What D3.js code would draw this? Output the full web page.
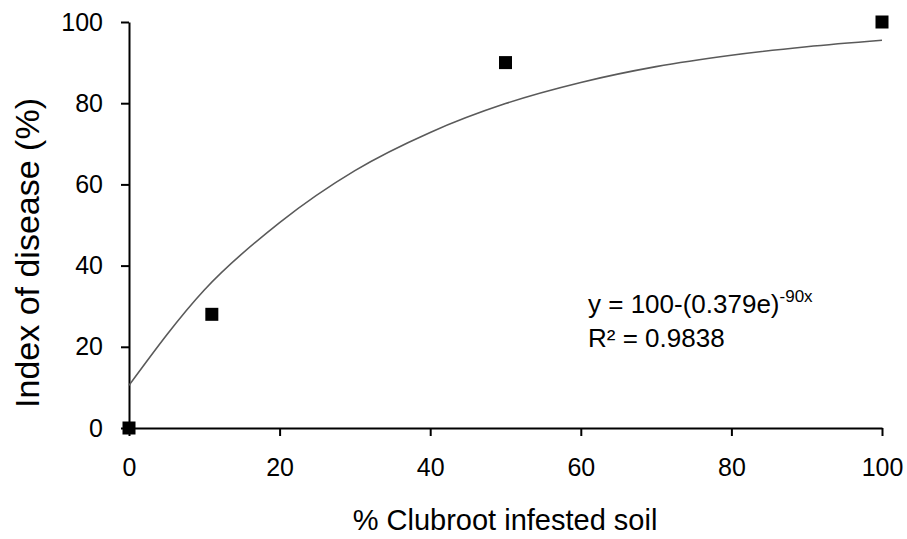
<!DOCTYPE html>
<html>
<head>
<meta charset="utf-8">
<script src="https://cdn.jsdelivr.net/npm/d3@7"></script>
<style>
  body { margin: 0; background: white; }
  text { font-family: "Liberation Sans", Arial, sans-serif; fill: #000; }
</style>
</head>
<body>
<script>
// measured points
const soilPct = [0, 11, 50, 100];
const diseaseIdx = [0, 28, 90, 100];

// fitted trend line
const trendX = [0, 10, 20, 30, 40, 50, 60, 70, 80, 90, 100];
const trendY = [10.5, 34, 50.6, 63.4, 72.8, 79.9, 85.1, 89, 91.8, 93.9, 95.5];

const xTicks = [0, 20, 40, 60, 80, 100];
const yTicks = [0, 20, 40, 60, 80, 100];

function drawChart() {
    let svg = d3.select('body').append('svg')
        .attr("width", 907)
        .attr("height", 539);

    let x = d3.scaleLinear().domain([0, 100]).range([129, 882]);
    let y = d3.scaleLinear().domain([0, 100]).range([428, 22]);

    // axes
    let yAxis = svg.append("g")
        .attr("transform", "translate(129,0)")
        .call(d3.axisLeft(y).tickValues(yTicks).tickSize(8).tickSizeOuter(0).tickPadding(18));
    let xAxis = svg.append("g")
        .attr("transform", "translate(0,428)")
        .call(d3.axisBottom(x).tickValues(xTicks).tickSize(8).tickSizeOuter(0).tickPadding(22));

    [xAxis, yAxis].forEach(g => {
        g.selectAll("path, line").attr("stroke", "#000").attr("stroke-width", 2);
        g.selectAll("text").style("font-size", "25px").attr("font-family", null);
    });

    // trend curve
    let line = d3.line()
        .x((d, i) => x(trendX[i]))
        .y(d => y(d))
        .curve(d3.curveMonotoneX);
    svg.append("path")
        .datum(trendY)
        .attr("d", line)
        .attr("fill", "none")
        .attr("stroke", "#5a5a5a")
        .attr("stroke-width", 1.6);

    // markers
    let sz = 13;
    svg.selectAll(".pt")
        .data(soilPct)
        .enter()
        .append("rect")
        .attr("class", "pt")
        .attr("x", d => x(d) - sz / 2)
        .attr("y", (d, i) => y(diseaseIdx[i]) - sz / 2)
        .attr("width", sz)
        .attr("height", sz)
        .attr("fill", "#000");

    // equation label
    let eq = svg.append("text")
        .attr("x", 588)
        .attr("y", 313)
        .style("font-size", "26px");
    eq.append("tspan").text("y = 100-(0.379e)");
    eq.append("tspan")
        .attr("dy", -11)
        .style("font-size", "17px")
        .text("-90x");
    svg.append("text")
        .attr("x", 588)
        .attr("y", 347)
        .style("font-size", "26px")
        .text("R² = 0.9838");

    // axis titles
    svg.append("text")
        .attr("x", 505)
        .attr("y", 530)
        .attr("text-anchor", "middle")
        .style("font-size", "29px")
        .text("% Clubroot infested soil");
    svg.append("text")
        .attr("transform", "translate(39,253) rotate(-90)")
        .attr("text-anchor", "middle")
        .style("font-size", "34px")
        .text("Index of disease (%)");
}

document.addEventListener('DOMContentLoaded', drawChart);
</script>
</body>
</html>
